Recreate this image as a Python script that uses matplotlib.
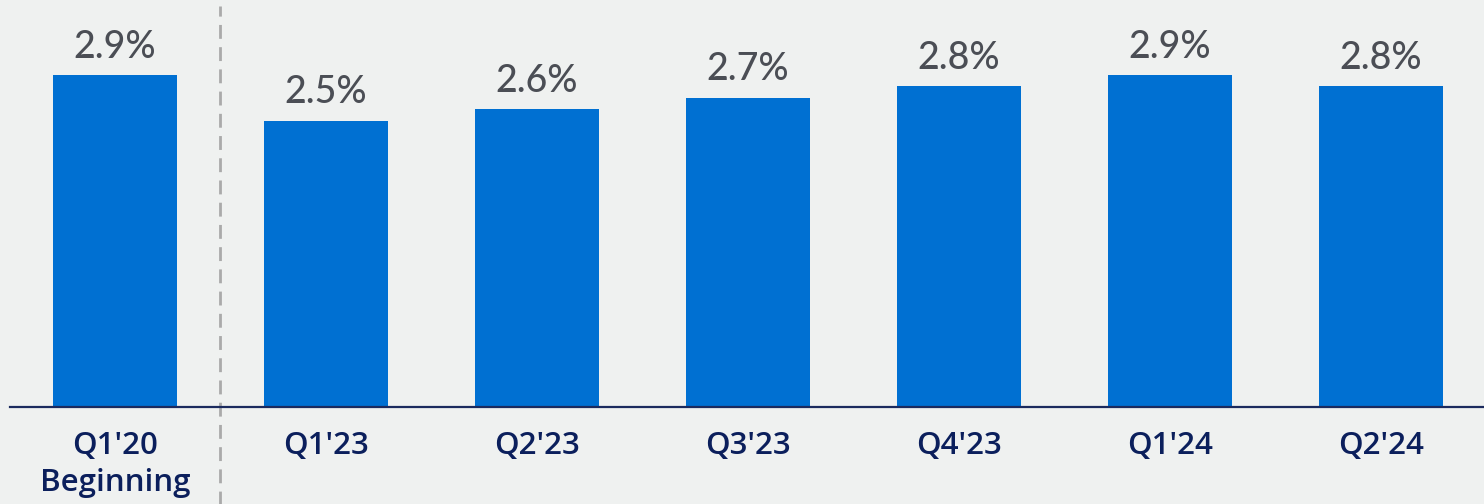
import numpy as np
import matplotlib.pyplot as plt
from matplotlib.transforms import blended_transform_factory

# dados
quarters = ["Q1'20\nBeginning", "Q1'23", "Q2'23", "Q3'23", "Q4'23", "Q1'24", "Q2'24"]
values = [2.9, 2.5, 2.6, 2.7, 2.8, 2.9, 2.8]

bg = '#eff1f0'
bar_color = '#0070d2'
navy = '#0b1f5c'
gray_text = '#4b4e55'

fig = plt.figure(figsize=(14.84, 5.04), dpi=100, facecolor=bg)
ax = fig.add_axes([10 / 1484, 97 / 504, 1474 / 1484, 407 / 504])
ax.set_facecolor(bg)

x = np.arange(len(values))
bars = ax.bar(x, values, width=0.588, color=bar_color, zorder=2)

# rótulos de valor acima das barras
for b, v in zip(bars, values):
    ax.annotate(f"{v:.1f}%", (b.get_x() + b.get_width() / 2, v),
                xytext=(0, 7.5), textcoords='offset points',
                ha='center', va='bottom', fontsize=27,
                color=gray_text, family='Lato', fontweight='medium')

ax.set_xlim(-0.4976, 6.488)
ax.set_ylim(0, 3.555)

ax.set_xticks(x)
ax.set_xticklabels(quarters, fontsize=22.5, color=navy, fontweight='semibold',
                   family='Open Sans', linespacing=1.3, va='top')
ax.tick_params(axis='x', length=0, pad=17)
ax.set_yticks([])

for s in ['top', 'right', 'left']:
    ax.spines[s].set_visible(False)
ax.spines['bottom'].set_color('#1b2a5e')
ax.spines['bottom'].set_linewidth(1.6)

# linha tracejada separando Q1'20 dos demais
trans = blended_transform_factory(ax.transData, ax.transAxes)
ax.plot([0.5, 0.5], [-0.24, 0.985], transform=trans, clip_on=False,
        color='#aaaaaa', linewidth=2, dashes=(5, 3), zorder=1)

fig.savefig('out.png', dpi=100, facecolor=bg)
